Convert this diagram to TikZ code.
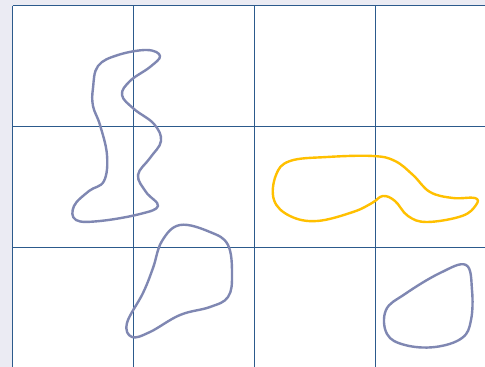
\documentclass[tikz,border=0pt]{standalone}
\definecolor{bgl}{HTML}{EBEBF3}
\definecolor{gridc}{HTML}{2C5A8C}
\definecolor{shp}{HTML}{7F87B2}
\definecolor{ylw}{HTML}{FFC000}
\begin{document}
\begin{tikzpicture}[x=1pt,y=-1pt,
  gridline/.style={draw=gridc,line width=1pt},
  blob/.style={draw=shp,line width=2.4pt,line join=round},
  yblob/.style={draw=ylw,line width=2.4pt,line join=round}]
\useasboundingbox (0,0) rectangle (485,367);
\fill[bgl] (0,0) rectangle (485,367);
\fill[white] (12.5,5.5) rectangle (485,367);
\foreach \x in {12.5,133.5,254.5,375.5} \draw[gridline] (\x,5.5) -- (\x,367);
\foreach \y in {5.5,126.5,247.5} \draw[gridline] (12.5,\y) -- (485,\y);
% shape 1
\draw[blob] plot[smooth cycle,tension=0.65] coordinates {
 (93,88) (98,66) (118,55) (147,50) (160,56) (150,67) (130,81) (122,95)
 (134,109) (154,124) (161,141) (150,158) (138,175) (146,192) (158,206)
 (140,214) (100,221) (76,220) (74,206) (89,191) (104,181) (107,155) (100,125) (93,106)};
% shape 2
\draw[blob] plot[smooth cycle,tension=0.65] coordinates {
 (180,225) (210,232) (228,245) (232,275) (228,297) (210,307)
 (180,315) (150,332) (132,337) (127,323) (143,293) (153,268)
 (162,241) };
% shape 3
\draw[blob] plot[smooth cycle,tension=0.65] coordinates {
 (466,265) (472,290) (471,320) (462,338) (435,347) (405,345) (387,334)
 (386,310) (405,294) (440,273) };
% yellow shape
\draw[yblob] plot[smooth cycle,tension=0.65] coordinates {
 (276,175) (290,161) (327,157) (373,156) (395,161) (413,175) (430,192)
 (453,198) (475,198) (476,205) (462,216) (427,222) (408,216) (395,201)
 (383,196) (372,203) (353,212) (317,221) (290,216) (274,200)};
\end{tikzpicture}
\end{document}
